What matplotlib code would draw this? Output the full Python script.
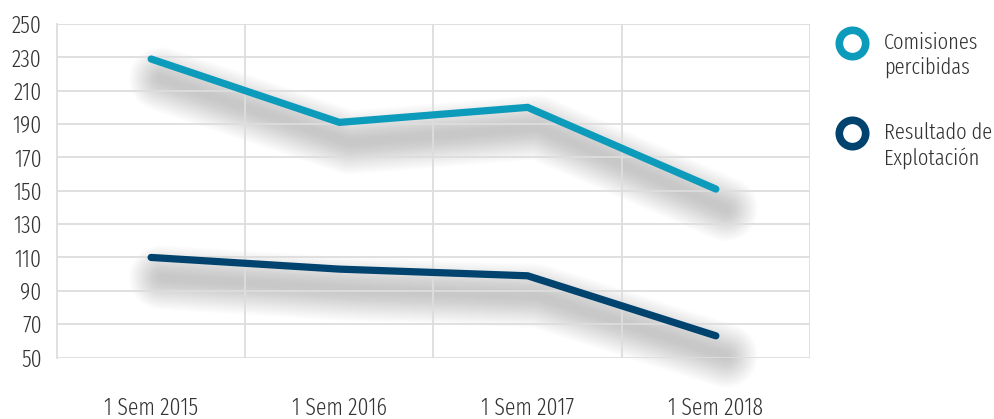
import matplotlib.pyplot as plt
from matplotlib import transforms

periodos = ["1 Sem 2015", "1 Sem 2016", "1 Sem 2017", "1 Sem 2018"]
comisiones = [229, 191, 200, 151]
resultado = [110, 103, 99, 63]
yticks = list(range(50, 251, 20))

COL_COM = "#0c9bbb"
COL_RES = "#00436f"
TXT = "#333333"

plt.rcParams["font.family"] = ["Fira Sans Extra Condensed", "Roboto Condensed", "DejaVu Sans"]
plt.rcParams["font.weight"] = 300

fig = plt.figure(figsize=(9.95, 4.19), dpi=100)
ax = fig.add_axes([57 / 995, 1 - 357.5 / 419, (810 - 57) / 995, (357.5 - 24) / 419])

x = list(range(len(periodos)))


def sombra(xs, ys):
    # sombra difusa desplazada hacia abajo
    off = transforms.offset_copy(ax.transData, fig=fig, x=10, y=-20, units="dots")
    for w in range(64, 4, -3):
        ax.plot(xs, ys, color="#555555", lw=w * 0.72, alpha=0.014,
                solid_capstyle="round", solid_joinstyle="round",
                transform=off, zorder=0.3, clip_on=False)


sombra(x, comisiones)
sombra(x, resultado)
ax.plot(x, comisiones, color=COL_COM, lw=5.2, solid_capstyle="round",
        solid_joinstyle="miter", zorder=3)
ax.plot(x, resultado, color=COL_RES, lw=5.2, solid_capstyle="round",
        solid_joinstyle="miter", zorder=3)

ax.set_xlim(-0.5, 3.5)
ax.set_ylim(50, 250)
ax.set_yticks(yticks)
ax.set_xticks(x)
ax.set_xticklabels(periodos)
ax.set_xticks([0.5, 1.5, 2.5, 3.5], minor=True)

ax.set_axisbelow(True)
ax.grid(axis="y", color="#dddddd", lw=1.3)
ax.grid(axis="x", which="minor", color="#dddddd", lw=1.3)
for s in ["top", "right", "bottom"]:
    ax.spines[s].set_visible(False)
ax.spines["left"].set_color("#dddddd")
ax.spines["left"].set_linewidth(1.3)
ax.tick_params(axis="both", which="both", length=0, colors=TXT, labelsize=17)
ax.tick_params(axis="x", pad=28)
ax.tick_params(axis="y", pad=11)

# leyenda
for yy, col, lab in [(43, COL_COM, "Comisiones\npercibidas"),
                     (133, COL_RES, "Resultado de\nExplotación")]:
    ax.plot([852 / 995], [1 - yy / 419], marker="o", ms=19, mfc="white",
            mec=col, mew=5.5, transform=fig.transFigure, clip_on=False)
    fig.text(884 / 995, 1 - (yy - 11) / 419, lab, fontsize=16, color=TXT,
             va="top", ha="left", linespacing=1.2)

fig.savefig("out.png", dpi=100)
